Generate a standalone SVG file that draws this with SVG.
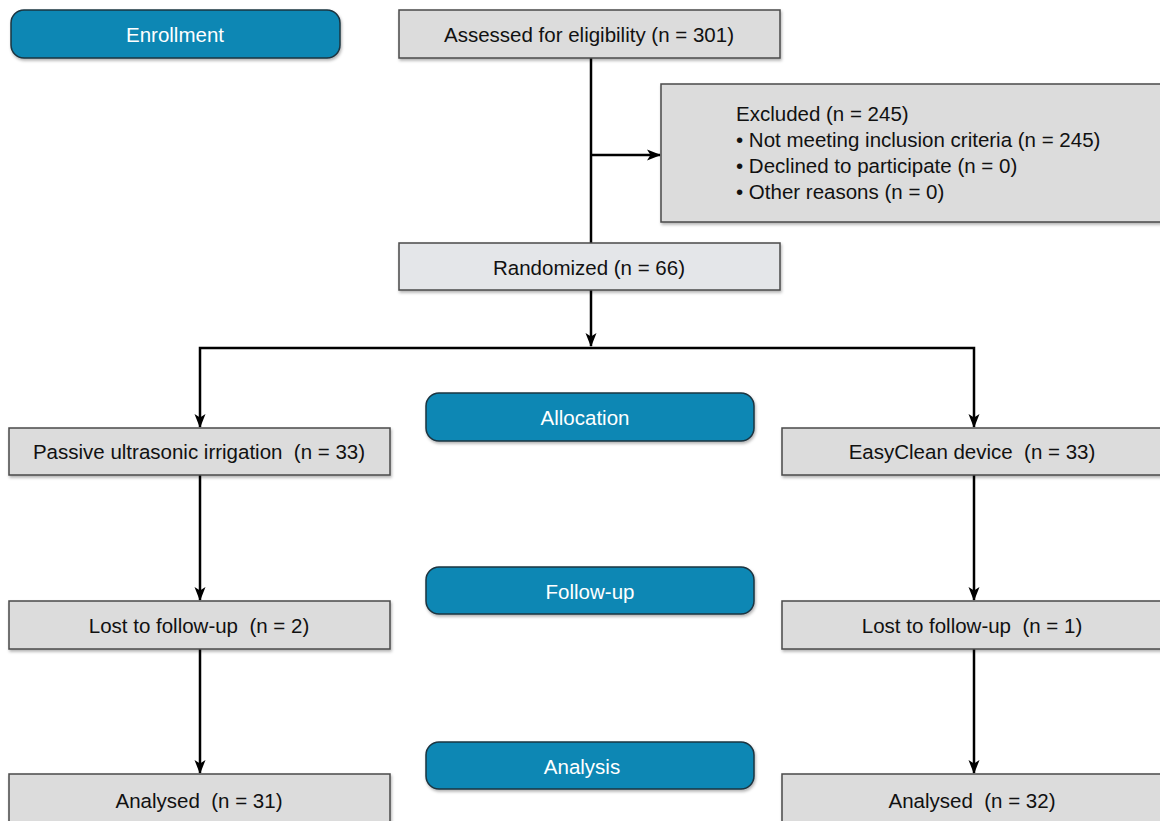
<svg xmlns="http://www.w3.org/2000/svg" width="1160" height="821" viewBox="0 0 1160 821">
<defs>
<filter id="sh" x="-5%" y="-20%" width="110%" height="150%">
<feDropShadow dx="1" dy="2" stdDeviation="1.5" flood-color="#000" flood-opacity="0.3"/>
</filter>
<marker id="arr" viewBox="0 0 14 14" refX="13" refY="7" markerWidth="14" markerHeight="14" markerUnits="userSpaceOnUse" orient="auto">
<path d="M0,1.5 L14,7 L0,12.5 L3.5,7 Z" fill="#000"/>
</marker>
<style>
.stage{fill:#0787b4;stroke:#1d3440;stroke-width:1.5;filter:url(#sh)}
.box{fill:#dcdcdc;stroke:#4a4a4a;stroke-width:1.5;filter:url(#sh)}
.boxl{fill:#e4e6e9;stroke:#4a4a4a;stroke-width:1.5;filter:url(#sh)}
text{white-space:pre}
.t{font-family:"Liberation Sans",Arial,Helvetica,sans-serif;font-size:20.5px;fill:#111;text-anchor:middle;dominant-baseline:central}
.tw{font-family:"Liberation Sans",Arial,Helvetica,sans-serif;font-size:20.5px;fill:#fff;text-anchor:middle;dominant-baseline:central}
.tl{font-family:"Liberation Sans",Arial,Helvetica,sans-serif;font-size:20.5px;fill:#111}
.c{fill:none;stroke:#000;stroke-width:2.5}
</style>
</defs>
<rect width="1160" height="821" fill="#fff"/>
<g id="connectors">
<line class="c" x1="591" y1="58" x2="591" y2="243"/>
<line class="c" x1="591" y1="155" x2="660" y2="155" marker-end="url(#arr)"/>
<line class="c" x1="591" y1="290" x2="591" y2="346" marker-end="url(#arr)"/>
<polyline class="c" points="591,348 974,348 974,427" marker-end="url(#arr)"/>
<polyline class="c" points="591,348 200,348 200,427" marker-end="url(#arr)"/>
<line class="c" x1="200" y1="475" x2="200" y2="600" marker-end="url(#arr)"/>
<line class="c" x1="974" y1="475" x2="974" y2="600" marker-end="url(#arr)"/>
<line class="c" x1="200" y1="649" x2="200" y2="773" marker-end="url(#arr)"/>
<line class="c" x1="974" y1="649" x2="974" y2="773" marker-end="url(#arr)"/>
</g>
<g id="enrollment"><rect class="stage" x="11" y="10" width="329" height="48" rx="13"/><text class="tw" x="175" y="34">Enrollment</text></g>
<g id="assessed"><rect class="box" x="399" y="10" width="381" height="48"/><text class="t" x="589" y="34">Assessed for eligibility (n = 301)</text></g>
<g id="excluded"><rect class="box" x="661" y="84" width="505" height="138"/>
<text class="tl" x="736" y="121">Excluded (n = 245)</text>
<text class="tl" x="736" y="147">• Not meeting inclusion criteria (n = 245)</text>
<text class="tl" x="736" y="173">• Declined to participate (n = 0)</text>
<text class="tl" x="736" y="199">• Other reasons (n = 0)</text>
</g>
<g id="randomized"><rect class="boxl" x="399" y="243" width="381" height="47"/><text class="t" x="589" y="267">Randomized (n = 66)</text></g>
<g id="allocation"><rect class="stage" x="426" y="393" width="328" height="48" rx="13"/><text class="tw" x="585" y="417">Allocation</text></g>
<g id="pui"><rect class="box" x="9" y="428" width="381" height="47"/><text class="t" x="199" y="451" xml:space="preserve">Passive ultrasonic irrigation  (n = 33)</text></g>
<g id="easyclean"><rect class="box" x="782" y="428" width="384" height="47"/><text class="t" x="972" y="451" xml:space="preserve">EasyClean device  (n = 33)</text></g>
<g id="followup"><rect class="stage" x="426" y="567" width="328" height="47" rx="13"/><text class="tw" x="590" y="591">Follow-up</text></g>
<g id="lost-left"><rect class="box" x="9" y="601" width="381" height="48"/><text class="t" x="199" y="625" xml:space="preserve">Lost to follow-up  (n = 2)</text></g>
<g id="lost-right"><rect class="box" x="782" y="601" width="384" height="48"/><text class="t" x="972" y="625" xml:space="preserve">Lost to follow-up  (n = 1)</text></g>
<g id="analysis"><rect class="stage" x="426" y="742" width="328" height="47" rx="13"/><text class="tw" x="582" y="766">Analysis</text></g>
<g id="analysed-left"><rect class="box" x="9" y="774" width="381" height="60"/><text class="t" x="199" y="800" xml:space="preserve">Analysed  (n = 31)</text></g>
<g id="analysed-right"><rect class="box" x="782" y="774" width="384" height="60"/><text class="t" x="972" y="800" xml:space="preserve">Analysed  (n = 32)</text></g>
</svg>
